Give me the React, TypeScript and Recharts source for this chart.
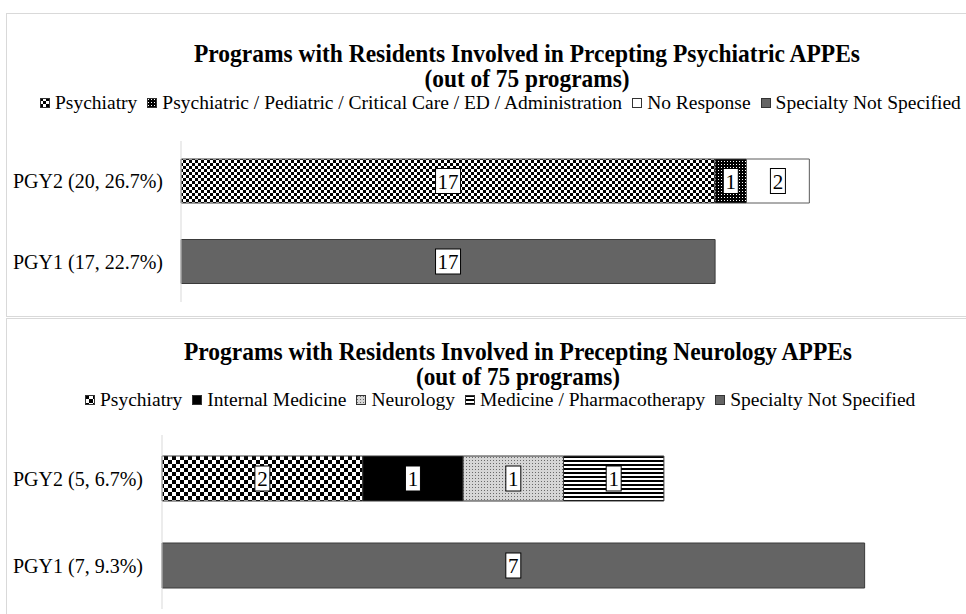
import React from "react";
import { BarChart, Bar, XAxis, YAxis, LabelList } from "recharts";

// top chart: psychiatric APPEs
const psychRows = ["PGY2 (20, 26.7%)", "PGY1 (17, 22.7%)"];
const psychPsychiatry = [17, 0];
const psychMixed = [1, 0];
const psychNoResponse = [2, 0];
const psychUnspecified = [0, 17];

// bottom chart: neurology APPEs
const neuroRows = ["PGY2 (5, 6.7%)", "PGY1 (7, 9.3%)"];
const neuroPsychiatry = [2, 0];
const neuroInternal = [1, 0];
const neuroNeurology = [1, 0];
const neuroMedPharm = [1, 0];
const neuroUnspecified = [0, 7];

const FONT = '"Liberation Serif", "Times New Roman", serif';

const psychData = psychRows.map((name, i) => ({
  name,
  psychiatry: psychPsychiatry[i],
  mixed: psychMixed[i],
  noResponse: psychNoResponse[i],
  unspecified: psychUnspecified[i],
}));

const neuroData = neuroRows.map((name, i) => ({
  name,
  psychiatry: neuroPsychiatry[i],
  internal: neuroInternal[i],
  neurology: neuroNeurology[i],
  medPharm: neuroMedPharm[i],
  unspecified: neuroUnspecified[i],
}));

const psychSeries = [
  { key: "psychiatry", name: "Psychiatry", fill: "url(#checkSmall)", stroke: "#3a3a3a" },
  { key: "mixed", name: "Psychiatric / Pediatric / Critical Care / ED / Administration", fill: "url(#dotsDark)", stroke: "#3a3a3a" },
  { key: "noResponse", name: "No Response", fill: "#ffffff", stroke: "#5a5a5a" },
  { key: "unspecified", name: "Specialty Not Specified", fill: "#646464", stroke: "#3a3a3a" },
];

const neuroSeries = [
  { key: "psychiatry", name: "Psychiatry", fill: "url(#checkLarge)", stroke: "#3a3a3a" },
  { key: "internal", name: "Internal Medicine", fill: "#000000", stroke: "#3a3a3a" },
  { key: "neurology", name: "Neurology", fill: "url(#dotsLight)", stroke: "#3a3a3a" },
  { key: "medPharm", name: "Medicine / Pharmacotherapy", fill: "url(#stripes)", stroke: "#3a3a3a" },
  { key: "unspecified", name: "Specialty Not Specified", fill: "#646464", stroke: "#3a3a3a" },
];

const Patterns = () => (
  <svg width={0} height={0} style={{ position: "absolute" }}>
    <defs>
      <pattern id="checkSmall" width={6} height={6} patternUnits="userSpaceOnUse">
        <rect width={6} height={6} fill="#fff" />
        <rect width={3} height={3} fill="#000" />
        <rect x={3} y={3} width={3} height={3} fill="#000" />
      </pattern>
      <pattern id="checkLarge" width={8} height={8} patternUnits="userSpaceOnUse">
        <rect width={8} height={8} fill="#fff" />
        <rect width={4} height={4} fill="#000" />
        <rect x={4} y={4} width={4} height={4} fill="#000" />
      </pattern>
      <pattern id="dotsDark" width={3} height={3} patternUnits="userSpaceOnUse">
        <rect width={3} height={3} fill="#000" />
        <rect x={1} y={1} width={1} height={1} fill="#fff" />
      </pattern>
      <pattern id="dotsLight" width={3} height={3} patternUnits="userSpaceOnUse">
        <rect width={3} height={3} fill="#d6d6d6" />
        <rect x={1} y={1} width={1} height={1} fill="#6a6a6a" />
      </pattern>
      <pattern id="stripes" width={4} height={4} patternUnits="userSpaceOnUse">
        <rect width={4} height={4} fill="#fff" />
        <rect width={4} height={2} fill="#000" />
      </pattern>
    </defs>
  </svg>
);

const BoxLabel = (props: any) => {
  const { x, y, width, height, value } = props;
  const cx = Number(x) + Number(width) / 2;
  const cy = Number(y) + Number(height) / 2;
  if (!value) {
    // the zero that trails the stacked row shows as a tiny mark
    if (value === 0 && props.trail && Number(x) > 200) {
      return (
        <text x={Number(x) + props.trail} y={cy} dy="0.35em" fontSize={6} fontFamily={FONT} fill="#888">
          0
        </text>
      );
    }
    return null;
  }
  const s = String(value);
  const w = s.length * 10 + 5;
  const h = 25;
  return (
    <g>
      <rect x={cx - w / 2} y={cy - h / 2} width={w} height={h} fill="#fff" stroke="#000" strokeWidth={1} />
      <text x={cx} y={cy} dy="0.36em" textAnchor="middle" fontSize={21} fontFamily={FONT} fill="#000">
        {s}
      </text>
    </g>
  );
};

const Legend = ({ items, left, top }: { items: any[]; left: number; top: number }) => (
  <div
    style={{
      position: "absolute",
      left,
      top,
      display: "flex",
      alignItems: "center",
      whiteSpace: "nowrap",
      fontFamily: FONT,
      fontSize: 19.5,
      color: "#000",
    }}
  >
    {items.map((s) => (
      <span key={s.key} style={{ display: "flex", alignItems: "center", marginRight: 10 }}>
        <svg width={10} height={10} style={{ marginRight: 5 }}>
          <rect x={0.5} y={0.5} width={9} height={9} fill={s.fill} stroke="#333" />
        </svg>
        {s.name}
      </span>
    ))}
  </div>
);

const Title = ({ top, lines, cx, widths }: { top: number; lines: string[]; cx: number; widths: number[] }) => (
  <svg width={966} height={60} style={{ position: "absolute", left: 0, top }}>
    {lines.map((t, i) => (
      <text
        key={t}
        x={cx}
        y={22 + i * 25}
        textAnchor="middle"
        fontFamily={FONT}
        fontWeight="bold"
        fontSize={25}
        textLength={widths[i]}
        lengthAdjust="spacingAndGlyphs"
        fill="#000"
      >
        {t}
      </text>
    ))}
  </svg>
);

const StackChart = ({ data, series, top, height, margin, axisWidth, domainMax, barSize, tickGap, trail }: any) => (
  <div style={{ position: "absolute", left: 0, top }}>
    <BarChart layout="vertical" width={966} height={height} data={data} margin={margin} barSize={barSize}>
      <XAxis type="number" domain={[0, domainMax]} hide />
      <YAxis
        type="category"
        dataKey="name"
        width={axisWidth}
        interval={0}
        tickLine={false}
        tickSize={0}
        tickMargin={tickGap}
        axisLine={{ stroke: "#d9d9d9" }}
        tick={{ fontSize: 20, fill: "#000", fontFamily: FONT }}
      />
      {series.map((s: any) => (
        <Bar
          key={s.key}
          dataKey={s.key}
          name={s.name}
          stackId="a"
          fill={s.fill}
          stroke={s.stroke}
          strokeWidth={1}
          isAnimationActive={false}
        >
          <LabelList
            dataKey={s.key}
            content={<BoxLabel trail={s.key === "unspecified" ? trail : 0} />}
          />
        </Bar>
      ))}
    </BarChart>
  </div>
);

export default function App() {
  return (
    <div
      style={{
        position: "absolute",
        left: 0,
        top: 0,
        width: 966,
        height: 614,
        overflow: "hidden",
        background: "#fff",
        fontFamily: FONT,
      }}
    >
      <Patterns />
      {/* top panel */}
      <div style={{ position: "absolute", left: 6, top: 13, width: 1000, height: 302, border: "1px solid #d9d9d9" }} />
      <Title
        top={40}
        cx={527}
        widths={[666, 205]}
        lines={["Programs with Residents Involved in Prcepting Psychiatric APPEs", "(out of 75 programs)"]}
      />
      <Legend items={psychSeries} left={40} top={92} />
      <StackChart
        data={psychData}
        series={psychSeries}
        top={121}
        height={190}
        margin={{ top: 20, right: 31, bottom: 9, left: 0 }}
        axisWidth={181}
        domainMax={24}
        barSize={44}
        tickGap={18}
        trail={12}
      />

      {/* bottom panel */}
      <div style={{ position: "absolute", left: 6, top: 318, width: 1000, height: 320, border: "1px solid #d9d9d9" }} />
      <Title
        top={338}
        cx={518}
        widths={[668, 204]}
        lines={["Programs with Residents Involved in Precepting Neurology APPEs", "(out of 75 programs)"]}
      />
      <Legend items={neuroSeries} left={85} top={389} />
      <StackChart
        data={neuroData}
        series={neuroSeries}
        top={420}
        height={194}
        margin={{ top: 15, right: 1, bottom: 5, left: 0 }}
        axisWidth={162}
        domainMax={8}
        barSize={45}
        tickGap={19}
        trail={1}
      />
    </div>
  );
}
